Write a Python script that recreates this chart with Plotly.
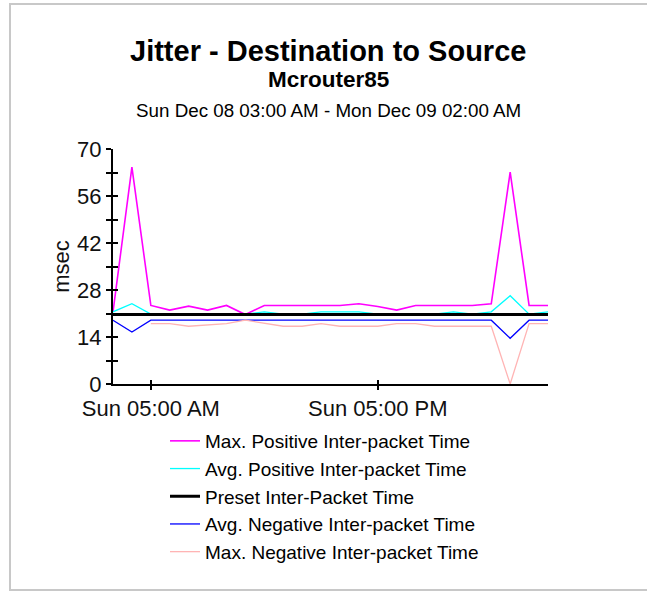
import pandas as pd
import plotly.graph_objects as go

# Hourly samples, Sun Dec 08 03:00 AM through Mon Dec 09 02:00 AM
times = pd.date_range("2002-12-08 03:00", periods=24, freq="h")

series_names = [
    "Max. Positive Inter-packet Time",
    "Avg. Positive Inter-packet Time",
    "Preset Inter-Packet Time",
    "Avg. Negative Inter-packet Time",
    "Max. Negative Inter-packet Time",
]

max_positive = [21.5, 64.6, 23.4, 22.0, 23.2, 22.0, 23.4, 20.7, 23.4, 23.4, 23.4, 23.4,
                23.4, 23.9, 23.1, 22.0, 23.4, 23.4, 23.4, 23.4, 23.9, 63.1, 23.4, 23.4]
avg_positive = [21.5, 23.9, 20.8, 20.8, 20.8, 20.8, 20.8, 20.8, 21.5, 20.8, 20.8, 21.5,
                21.5, 21.5, 20.8, 20.8, 20.8, 20.8, 21.5, 20.8, 21.5, 26.3, 20.8, 21.5]
preset = [20.7] * 24
avg_negative = [19.0, 15.5, 19.0, 19.0, 19.0, 19.0, 19.0, 19.2, 19.0, 19.0, 19.0, 19.0,
                19.0, 19.0, 19.0, 19.0, 19.0, 19.0, 19.0, 19.0, 19.0, 13.6, 19.0, 19.0]
max_negative = [None, None, 18.0, 18.0, 17.2, 17.5, 18.0, 19.0, 18.0, 17.2, 17.2, 18.0,
                17.2, 17.2, 17.2, 18.0, 18.0, 17.2, 17.2, 17.2, 17.2, 0.0, 18.0, 18.0]

y_ticks = [0, 14, 28, 42, 56, 70]
x_ticks = ["2002-12-08 05:00", "2002-12-08 17:00"]

colors = ["#ff00ff", "#00ffff", "#000000", "#0000ff", "#ffb4b4"]
widths = [1.6, 1.3, 3, 1.3, 1.3]
values = [max_positive, avg_positive, preset, avg_negative, max_negative]

FONT = "Liberation Sans, Arial, sans-serif"

fig = go.Figure()
for name, vals, col, w in zip(series_names, values, colors, widths):
    fig.add_trace(go.Scatter(x=times, y=vals, name=name, mode="lines",
                             line=dict(color=col, width=w), connectgaps=False))

# Empty traces so the companion axes (inner half of each tick) get drawn
fig.add_trace(go.Scatter(x=[], y=[], xaxis="x2", yaxis="y", showlegend=False,
                         hoverinfo="skip"))
fig.add_trace(go.Scatter(x=[], y=[], xaxis="x", yaxis="y2", showlegend=False,
                         hoverinfo="skip"))

W, H = 647, 592
L, R, T, B = 113, 99, 149, 208
pw, ph = W - L - R, H - T - B


def px(x):
    return (x - L) / pw


def py(y):
    return (H - B - y) / ph


x_range = [times[0], times[-1]]

fig.update_layout(
    width=W, height=H,
    margin=dict(l=L, r=R, t=T, b=B),
    paper_bgcolor="white", plot_bgcolor="white",
    font=dict(family=FONT, color="#000000"),
    showlegend=True,
    legend=dict(x=px(165), y=py(422), xanchor="left", yanchor="top",
                font=dict(size=19, family=FONT, color="#000000"),
                bgcolor="rgba(0,0,0,0)", itemwidth=30, tracegroupgap=0),
    xaxis=dict(type="date", range=x_range, tickvals=x_ticks,
               tickformat="%a %I:%M %p", ticks="outside", ticklen=4,
               tickwidth=1.5, tickcolor="#000", showline=True, linecolor="#000",
               linewidth=1.5, showgrid=False, zeroline=False,
               tickfont=dict(size=22, family=FONT, color="#111")),
    xaxis2=dict(type="date", range=x_range, tickvals=x_ticks, overlaying="x",
                anchor="y", side="bottom", ticks="inside", ticklen=4, tickwidth=1.5,
                tickcolor="#000", showticklabels=False, showline=False,
                showgrid=False, zeroline=False),
    yaxis=dict(range=[0, 70], tickvals=y_ticks, ticks="outside", ticklen=5,
               tickwidth=1.5, tickcolor="#000", showline=True, linecolor="#000",
               linewidth=2, showgrid=False, zeroline=False,
               minor=dict(ticks="outside", ticklen=5, dtick=7, tick0=0,
                          tickwidth=1.5, tickcolor="#000"),
               tickfont=dict(size=22, family=FONT, color="#111"),
               title=dict(text="msec", font=dict(size=22, family=FONT, color="#111"),
                          standoff=1)),
    yaxis2=dict(range=[0, 70], tickvals=y_ticks, overlaying="y", anchor="x",
                side="left", ticks="inside", ticklen=5, tickwidth=1.5,
                tickcolor="#000", showticklabels=False, showline=False,
                showgrid=False, zeroline=False,
                minor=dict(ticks="inside", ticklen=5, dtick=7, tick0=0,
                           tickwidth=1.5, tickcolor="#000")),
)

# Chart headings
headings = [
    ("<b>Jitter - Destination to Source</b>", 29, 51),
    ("<b>Mcrouter85</b>", 22.5, 80),
    ("Sun Dec 08 03:00 AM - Mon Dec 09 02:00 AM", 18.8, 110),
]
for text, size, yc in headings:
    fig.add_annotation(text=text, xref="paper", yref="paper", x=px(328), y=py(yc),
                       xanchor="center", yanchor="middle", showarrow=False,
                       font=dict(size=size, family=FONT, color="#000"))

# Panel frame
fig.add_shape(type="rect", xref="paper", yref="paper",
              x0=px(10), x1=px(652), y0=py(590), y1=py(4),
              line=dict(color="#c8c8c8", width=2), layer="below")

fig.write_html("out.html")
